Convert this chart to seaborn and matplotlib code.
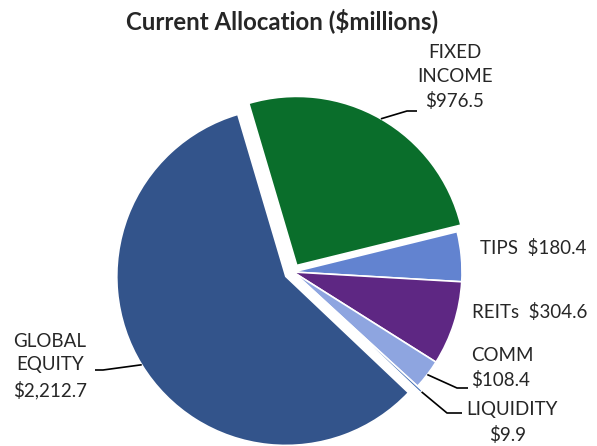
import numpy as np
import matplotlib
matplotlib.use("Agg")
import matplotlib.pyplot as plt
import seaborn as sns

# data, in pie order (clockwise from the top)
labels = ["FIXED\nINCOME\n$976.5", "TIPS  $180.4", "REITs  $304.6",
          "COMM\n$108.4", "LIQUIDITY\n$9.9", "GLOBAL\nEQUITY\n$2,212.7"]
values = [976.5, 180.4, 304.6, 108.4, 9.9, 2212.7]
colors = ["#0a6e2b", "#6283d0", "#5e2783", "#8ea5e0", "#3a67b0", "#33548b"]
explode = [0.045, 0.0, 0.0, 0.0, 0.04, 0.05]

sns.set_theme(style="white")
plt.rcParams["font.family"] = ["Lato", "DejaVu Sans"]

W, H = 597, 446
R = 169.0          # pie radius, px
CX, CY = 293, 272  # pie centre, px from top-left
FS = 13.5


def px(x, y):
    # pixel (from top-left) -> data units
    return (x - CX) / R, (CY - y) / R


fig = plt.figure(figsize=(W / 100, H / 100), dpi=100)
ax = fig.add_axes([0, 0, 1, 1])

wedges, _ = ax.pie(values, colors=colors, explode=explode, startangle=106.5,
                   counterclock=False, radius=1.0, center=(0, 0),
                   wedgeprops=dict(linewidth=1.2, edgecolor="white"),
                   frame=True)
ax.set_xlim(-CX / R, (W - CX) / R)
ax.set_ylim(-(H - CY) / R, CY / R)
ax.set_aspect("auto")
ax.axis("off")

# label placement: (text x, text y, ha, elbow, leader end)
lab_pos = [
    (455, 77, "center", (407, 111), (417, 111)),
    (480, 248, "left", None, None),
    (472, 312, "left", None, None),
    (471, 368, "left", (457, 388), (468, 388)),
    (466, 410, "left", (447, 413), (462, 413)),
    (50, 366, "center", (103, 370), (95, 370)),
]

for w, lab, (tx, ty, ha, elbow, end) in zip(wedges, labels, lab_pos):
    mid = np.deg2rad((w.theta1 + w.theta2) / 2)
    cx, cy = w.center
    tx_d, ty_d = px(tx, ty)
    if lab.startswith("LIQUIDITY"):
        ax.text(tx_d, ty_d, "LIQUIDITY", ha="left", va="center", fontsize=FS)
        ax.text(*px(508, 435), "$9.9", ha="center", va="center", fontsize=FS)
    else:
        ax.text(tx_d, ty_d, lab, ha=ha, va="center", fontsize=FS,
                linespacing=1.45, multialignment="center" if ha == "center" else "left")
    if elbow is not None:
        sx = cx + 1.0 * np.cos(mid)
        sy = cy + 1.0 * np.sin(mid)
        ex, ey = px(*elbow)
        fx, fy = px(*end)
        ax.plot([sx, ex, fx], [sy, ey, fy], color="black", lw=1.2,
                solid_capstyle="butt")

ax.text(*px(282, 21), "Current Allocation ($millions)", ha="center",
        va="center", fontsize=17.3, fontweight="bold")

fig.savefig("out.png", dpi=100)
